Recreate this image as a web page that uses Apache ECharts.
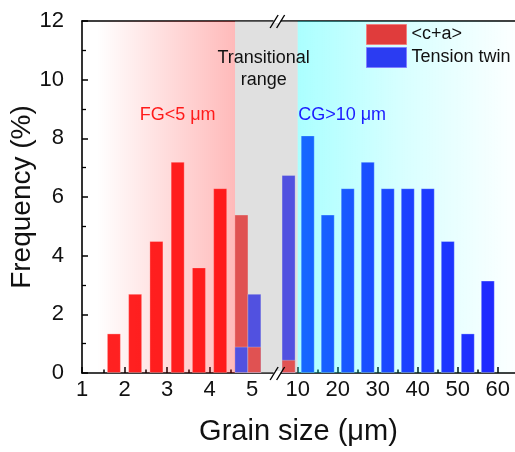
<!DOCTYPE html>
<html>
<head>
<meta charset="utf-8">
<script src="https://cdn.jsdelivr.net/npm/echarts@6/dist/echarts.min.js"></script>
<style>
html,body{margin:0;padding:0;background:#fff;}
#main{width:515px;height:452px;}
</style>
</head>
<body>
<div id="main"></div>
<script>
// grain size bins (um) and frequency (%)
const caPos = [1.75, 2.25, 2.75, 3.25, 3.75, 4.25, 4.75, 5.25, 9];
const caFreq = [1.35, 2.7, 4.5, 7.2, 3.6, 6.3, 5.4, 0.9, 0.45];
const twinPos = [4.75, 5.25, 9, 12.5, 17.5, 22.5, 27.5, 32.5, 37.5, 42.5, 47.5, 52.5, 57.5];
const twinFreq = [0.9, 2.7, 6.75, 8.1, 5.4, 6.3, 7.2, 6.3, 6.3, 6.3, 4.5, 1.35, 3.15];
const majorTicks = [1, 2, 3, 4, 5, 10, 20, 30, 40, 50, 60];
const minorTicks = [1.5, 2.5, 3.5, 4.5, 15, 25, 35, 45, 55];
const fgEnd = 4.6, cgStart = 10, breakAt = 7.8, xEndGrain = 64.3;

const FONT = 'Liberation Sans, Arial, sans-serif';

// broken axis: 1-5 wide, 5-10 squeezed, 10-60 compressed
function toAxis(g) {
    if (g <= 5) return (g - 1) * 42.5;
    if (g <= 10) return 170 + (g - 5) * 9.12;
    return 215.6 + (g - 10) * 4;
}
const xMax = toAxis(xEndGrain);

function labelOf(v) {
    for (let g of majorTicks) {
        if (Math.abs(toAxis(g) - v) < 0.01) return String(g);
    }
    return '';
}

const caData = caPos.map((p, i) => [toAxis(p), caFreq[i]]);
const twinData = twinPos.map((p, i) => [toAxis(p), twinFreq[i]]);
// red bars that are shorter than the blue one in the same bin go in front
const caFront = [];
caPos.forEach((p, i) => {
    let j = twinPos.indexOf(p);
    if (j >= 0 && twinFreq[j] > caFreq[i]) caFront.push([toAxis(p), caFreq[i]]);
});

const RED = '#ff2222', BLUE = '#2020ff';
const barStyle = (c) => ({ color: c, borderColor: 'rgba(255,255,255,0.3)', borderWidth: 1 });

var chart = echarts.init(document.getElementById('main'));
var option = {
    animation: false,
    textStyle: { fontFamily: FONT },
    grid: { left: 82, right: 0, top: 21, bottom: 79, containLabel: false, outerBoundsMode: 'none' },
    legend: {
        orient: 'vertical', left: 361, top: 19, z: 10,
        itemWidth: 40, itemHeight: 20, itemGap: 2,
        textStyle: { fontSize: 18, color: '#111', fontFamily: FONT },
        data: [
            { name: '<c+a>', icon: 'rect', itemStyle: { color: '#e03c3c', borderColor: '#f08080', borderWidth: 1 } },
            { name: 'Tension twin', icon: 'rect', itemStyle: { color: '#2b3cf2', borderColor: '#8080ff', borderWidth: 1 } }
        ]
    },
    xAxis: [
        {
            type: 'value', min: 0, max: xMax, position: 'bottom',
            axisLine: { show: true, onZero: false, lineStyle: { color: '#000', width: 1.6 } },
            axisTick: { show: true, inside: true, length: 6, customValues: majorTicks.map(toAxis), lineStyle: { color: '#000', width: 1.5 } },
            axisLabel: { customValues: majorTicks.map(toAxis), formatter: labelOf, fontSize: 22, color: '#111', margin: 6, fontFamily: FONT },
            splitLine: { show: false },
            name: 'Grain size (μm)', nameLocation: 'middle', nameGap: 44, nameMoveOverlap: false,
            nameTextStyle: { fontSize: 29, color: '#111', fontFamily: FONT }
        },
        {
            type: 'value', min: 0, max: xMax, position: 'bottom',
            axisLine: { show: false },
            axisTick: { show: true, inside: true, length: 3.5, customValues: minorTicks.map(toAxis), lineStyle: { color: '#000', width: 1.5 } },
            axisLabel: { show: false },
            splitLine: { show: false }
        },
        {
            type: 'value', min: 0, max: xMax, position: 'top',
            axisLine: { show: true, onZero: false, lineStyle: { color: '#000', width: 1.6 } },
            axisTick: { show: false }, axisLabel: { show: false }, splitLine: { show: false }
        }
    ],
    yAxis: {
        type: 'value', min: 0, max: 12, interval: 2,
        axisLine: { show: true, lineStyle: { color: '#000', width: 1.6 } },
        axisTick: { show: true, inside: true, length: 6, lineStyle: { color: '#000', width: 1.5 } },
        minorTick: { show: true, splitNumber: 2, length: 4, lineStyle: { color: '#000', width: 1.3 } },
        axisLabel: { fontSize: 22, color: '#111', margin: 18, fontFamily: FONT },
        splitLine: { show: false },
        name: 'Frequency (%)', nameLocation: 'middle', nameGap: 46, nameMoveOverlap: false,
        nameTextStyle: { fontSize: 28, color: '#111', fontFamily: FONT }
    },
    series: [
        { name: '<c+a>', type: 'bar', data: caData, barWidth: 14, barGap: '-100%', itemStyle: barStyle(RED) },
        { name: 'Tension twin', type: 'bar', data: twinData, barWidth: 14, barGap: '-100%', itemStyle: barStyle(BLUE) },
        { name: '<c+a> front', type: 'bar', data: caFront, barWidth: 14, barGap: '-100%', itemStyle: barStyle(RED) },
        {
            name: 'zones', type: 'line', data: [], symbol: 'none',
            markArea: {
                silent: true, z: 3,
                data: [
                    [{ xAxis: toAxis(1), itemStyle: { color: new echarts.graphic.LinearGradient(0, 0, 1, 0, [
                        { offset: 0, color: 'rgba(255,0,0,0)' },
                        { offset: 0.1, color: 'rgba(255,0,0,0)' },
                        { offset: 1, color: 'rgba(255,0,0,0.27)' }]) } }, { xAxis: toAxis(fgEnd) }],
                    [{ xAxis: toAxis(fgEnd), itemStyle: { color: 'rgba(169,169,169,0.36)' } }, { xAxis: toAxis(cgStart) }],
                    [{ xAxis: toAxis(cgStart), itemStyle: { color: new echarts.graphic.LinearGradient(0, 0, 1, 0, [
                        { offset: 0, color: 'rgba(0,255,255,0.33)' },
                        { offset: 0.5, color: 'rgba(0,255,255,0.15)' },
                        { offset: 1, color: 'rgba(0,255,255,0.01)' }]) } }, { xAxis: xMax }]
                ]
            }
        }
    ]
};
chart.setOption(option);

// annotations and axis break marks, placed through the axes
function px(g, f) { return chart.convertToPixel({ xAxisIndex: 0, yAxisIndex: 0 }, [toAxis(g), f]); }
function note(g, f, text, color) {
    let p = px(g, f);
    return { type: 'text', x: p[0], y: p[1], z: 10, silent: true,
        style: { text: text, fill: color, fontSize: 18, fontFamily: FONT, align: 'center', verticalAlign: 'middle', lineHeight: 22 } };
}
function breakMark(f) {
    let p = px(breakAt, f);
    let x = p[0], y = p[1];
    return { type: 'group', z: 10, silent: true, children: [
        { type: 'rect', shape: { x: x - 4, y: y - 2, width: 7, height: 4 }, style: { fill: '#fff' }, z: 10 },
        { type: 'line', shape: { x1: x - 7.5, y1: y + 7, x2: x + 0.5, y2: y - 6 }, style: { stroke: '#000', lineWidth: 1.4 }, z: 11 },
        { type: 'line', shape: { x1: x - 1, y1: y + 7, x2: x + 7, y2: y - 6 }, style: { stroke: '#000', lineWidth: 1.4 }, z: 11 }
    ] };
}
chart.setOption({
    graphic: [
        note(3.25, 8.8, 'FG<5 μm', '#ff1a1a'),
        note(21.1, 8.8, 'CG>10 μm', '#1a1aff'),
        note(6.27, 10.35, 'Transitional\nrange', '#111'),
        breakMark(0),
        breakMark(12)
    ]
});
</script>
</body>
</html>
